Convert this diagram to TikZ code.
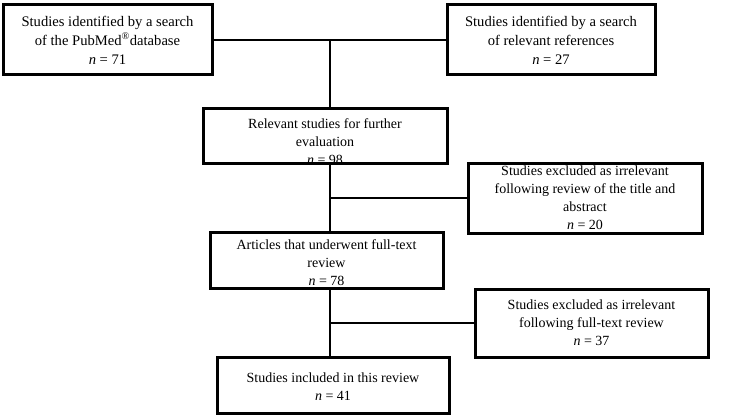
\documentclass[tikz,border=0pt]{standalone}
\usepackage{fontspec}
\setmainfont{Liberation Serif}
\usepackage{tikz}

\begin{document}
\begin{tikzpicture}[x=1pt,y=-1pt,
  box/.style={draw,line width=3pt,rectangle,inner sep=0pt},
  txt/.style={align=center,font=\fontsize{14}{18}\selectfont,inner sep=0pt},
  line/.style={line width=1.5pt}]
\useasboundingbox (0,0) rectangle (750,420);
%Построение блоков
\node[box,minimum width=209,minimum height=70] (pubmed) at (107.5,40) {};
\node[box,minimum width=208,minimum height=70] (refs) at (551,40) {};
\node[box,minimum width=244,minimum height=55] (eval) at (325,135.5) {};
\node[box,minimum width=234,minimum height=70] (exclA) at (585,198) {};
\node[box,minimum width=233,minimum height=56] (full) at (326.5,260) {};
\node[box,minimum width=233,minimum height=68] (exclB) at (591.5,323) {};
\node[box,minimum width=232,minimum height=56] (incl) at (333,385) {};
%Надписи в блоках
\node[txt,font=\fontsize{14.6}{19}\selectfont] (tpubmed) at (pubmed) {Studies identified by a search\\of the PubMed\textsuperscript{®}database\\\textit{n} = 71};
\node[txt,font=\fontsize{14.6}{19}\selectfont] (trefs) at (refs) {Studies identified by a search\\of relevant references\\\textit{n} = 27};
\node[txt,yshift=-6] (teval) at (eval) {Relevant studies for further\\evaluation\\\textit{n} = 98};
\node[txt] (texclA) at (exclA) {Studies excluded as irrelevant\\following review of the title and\\abstract\\\textit{n} = 20};
\node[txt,yshift=-3] (tfull) at (full) {Articles that underwent full-text\\review\\\textit{n} = 78};
\node[txt] (texclB) at (exclB) {Studies excluded as irrelevant\\following full-text review\\\textit{n} = 37};
\node[txt,yshift=-2] (tincl) at (incl) {Studies included in this review\\\textit{n} = 41};
%Соединительные линии
\coordinate (join) at (330,40);
\draw[line] (pubmed.east)--(refs.west);
\draw[line] (join)--(join |- eval.north);
\draw[line] (join |- eval.south)--(join |- full.north);
\draw[line] (join |- exclA.west)--(exclA.west);%ветка к исключенным
\draw[line] (join |- full.south)--(join |- incl.north);
\draw[line] (join |- exclB.west)--(exclB.west);%ветка к исключенным
\end{tikzpicture}
\end{document}
